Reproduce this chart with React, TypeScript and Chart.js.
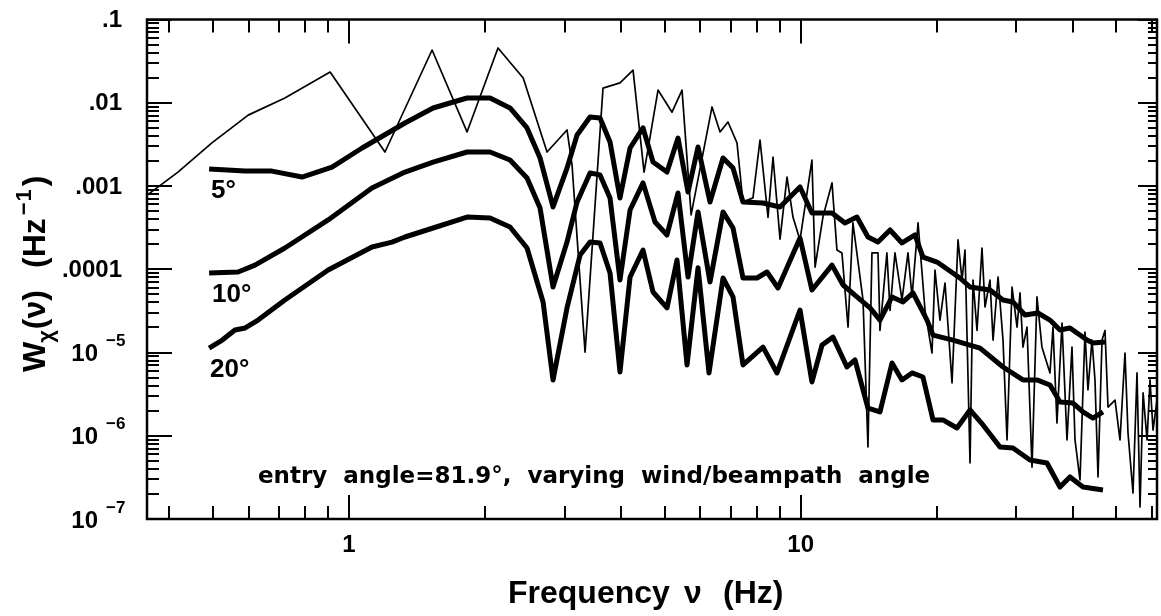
import React, { useEffect, useRef } from 'react';
import { Chart, registerables } from 'chart.js';

Chart.register(...registerables);

const X_MIN = 0.357;
const X_MAX = 61.5;
const Y_MIN = 1e-7;
const Y_MAX = 0.1;

// measured spectrum (thin line)
const thinFreq = [0.353, 0.418, 0.497, 0.598, 0.721, 0.908, 1.201, 1.527, 1.825, 2.137, 2.43, 2.744, 3.038, 3.117, 3.331, 3.65, 3.98, 4.254, 4.5, 4.832, 5.189, 5.461, 5.72, 6.363, 6.628, 6.903, 7.227, 7.45, 7.84, 8.127, 8.465, 8.684, 9.0, 9.326, 9.616, 9.965, 10.59, 10.76, 11.2, 11.73, 12.03, 12.34, 12.73, 13.05, 13.74, 14.09, 14.38, 14.83, 14.98, 15.52, 15.77, 16.17, 16.76, 17.28, 17.64, 18.19, 18.85, 19.53, 19.83, 20.34, 20.87, 21.63, 22.3, 22.76, 23.11, 23.71, 24.07, 24.57, 25.2, 25.59, 26.25, 26.66, 27.35, 28.05, 28.63, 29.37, 30.13, 30.59, 31.05, 31.7, 32.52, 33.35, 34.21, 35.64, 36.19, 36.93, 37.89, 38.87, 39.87, 40.49, 41.53, 42.6, 43.25, 44.15, 44.83, 45.53, 46.47, 47.18, 47.91, 49.65, 50.93, 52.24, 53.05, 54.42, 55.54, 56.4, 57.29, 58.46, 59.35, 60.26, 61.5, 62.4];
const thinVal = [7.4e-4, 1.47e-3, 3.29e-3, 7.1e-3, 1.14e-2, 2.34e-2, 2.56e-3, 4.3e-2, 4.46e-3, 4.55e-2, 1.98e-2, 2.56e-3, 4.71e-3, 1.79e-3, 1.01e-5, 1.5e-2, 1.73e-2, 2.47e-2, 1.47e-3, 1.42e-2, 7.7e-3, 1.42e-2, 4.5e-4, 8.9e-3, 4.46e-3, 5.87e-3, 3.29e-3, 6.4e-4, 7.2e-4, 3.57e-3, 4.2e-4, 2.23e-3, 2.3e-4, 1.28e-3, 4.2e-4, 2.25e-4, 2.05e-3, 1.06e-4, 4.24e-4, 1.09e-3, 1.7e-4, 1.57e-4, 2.02e-5, 3.6e-4, 4.28e-5, 7.33e-7, 1.57e-4, 1.57e-4, 1.84e-5, 1.57e-4, 3.2e-5, 1.57e-4, 4.28e-5, 1.57e-4, 4.65e-5, 3.6e-4, 3.2e-5, 9.86e-6, 9.8e-5, 2.45e-5, 6.84e-5, 4.3e-6, 2.25e-4, 7.43e-5, 1.7e-4, 4.71e-7, 7.43e-5, 1.84e-5, 1.8e-4, 3.52e-5, 7.43e-5, 1.41e-5, 8.07e-5, 1.41e-5, 8.9e-7, 6.12e-5, 2.02e-5, 5.19e-5, 1.16e-5, 2.02e-5, 4.2e-7, 4.65e-5, 1.16e-5, 5.68e-6, 2.02e-5, 1.42e-6, 2.26e-5, 8.9e-7, 1.16e-5, 8.9e-7, 2.94e-7, 1.76e-5, 3.55e-6, 1.41e-5, 4.68e-6, 3.2e-7, 1.41e-5, 1.84e-5, 2.21e-6, 2.68e-6, 8.9e-7, 9.86e-6, 1.08e-6, 2.05e-7, 5.68e-6, 1.39e-7, 3.27e-6, 8.9e-7, 4.68e-6, 1.17e-6, 2.68e-6, 1.5e-6];

// model, 5 degrees
const freq5 = [0.49, 0.589, 0.675, 0.787, 0.917, 1.069, 1.33, 1.535, 1.825, 2.052, 2.272, 2.478, 2.648, 2.829, 3.038, 3.198, 3.417, 3.595, 3.783, 3.98, 4.19, 4.476, 4.71, 5.058, 5.35, 5.63, 5.925, 6.298, 6.73, 7.082, 7.451, 8.252, 9.0, 9.965, 10.59, 11.73, 12.53, 13.32, 14.09, 14.83, 15.77, 16.76, 17.91, 18.65, 20.04, 22.52, 23.71, 26.25, 28.05, 29.51, 31.38, 33.52, 35.64, 37.5, 39.46, 43.04, 44.37, 47.18];
const val5 = [1.6e-3, 1.51e-3, 1.51e-3, 1.28e-3, 1.69e-3, 2.86e-3, 5.71e-3, 8.65e-3, 1.14e-2, 1.14e-2, 8.65e-3, 4.98e-3, 2.17e-3, 5.6e-4, 1.64e-3, 4.1e-3, 6.75e-3, 6.56e-3, 3.38e-3, 7.18e-4, 2.86e-3, 4.98e-3, 1.94e-3, 1.47e-3, 3.77e-3, 8.47e-4, 2.94e-3, 6.43e-4, 2.17e-3, 1.64e-3, 6.43e-4, 6.25e-4, 5.6e-4, 9.73e-4, 4.74e-4, 4.74e-4, 3.6e-4, 4.24e-4, 2.44e-4, 2.12e-4, 2.96e-4, 2.07e-4, 2.58e-4, 1.4e-4, 1.22e-4, 7.85e-5, 6.12e-5, 5.64e-5, 4.28e-5, 4.05e-5, 2.82e-5, 2.98e-5, 2.45e-5, 1.86e-5, 1.97e-5, 1.41e-5, 1.3e-5, 1.34e-5];

// model, 10 degrees
const freq10 = [0.49, 0.568, 0.619, 0.721, 0.899, 1.124, 1.33, 1.535, 1.825, 2.052, 2.272, 2.478, 2.648, 2.829, 3.038, 3.198, 3.417, 3.595, 3.783, 3.98, 4.19, 4.476, 4.758, 5.058, 5.35, 5.63, 5.925, 6.298, 6.73, 7.082, 7.451, 8.002, 8.422, 8.908, 9.965, 10.59, 11.73, 12.41, 13.32, 14.24, 14.98, 15.93, 16.85, 17.73, 19.04, 19.63, 21.73, 24.95, 28.05, 31.05, 33.35, 35.64, 37.5, 40.07, 42.17, 44.37, 46.7];
const val10 = [9.02e-5, 9.27e-5, 1.12e-4, 1.8e-4, 3.91e-4, 9.46e-4, 1.47e-3, 1.94e-3, 2.56e-3, 2.56e-3, 2.05e-3, 1.25e-3, 5.44e-4, 6.12e-5, 2.12e-4, 6.43e-4, 1.43e-3, 1.36e-3, 7.18e-4, 7.43e-5, 5.15e-4, 1.09e-3, 3.7e-4, 2.58e-4, 8.24e-4, 8.07e-5, 4.88e-4, 7.03e-5, 4.88e-4, 3.13e-4, 7.85e-5, 7.85e-5, 9.27e-5, 5.96e-5, 2.37e-4, 5.64e-5, 1.12e-4, 6.47e-5, 4.65e-5, 3.43e-5, 2.45e-5, 4.65e-5, 4.05e-5, 5.19e-5, 2.45e-5, 1.62e-5, 1.41e-5, 1.13e-5, 6.7e-6, 4.68e-6, 4.68e-6, 4.07e-6, 2.54e-6, 2.47e-6, 1.93e-6, 1.63e-6, 1.93e-6];

// model, 20 degrees
const freq20 = [0.49, 0.524, 0.559, 0.589, 0.629, 0.721, 0.899, 1.124, 1.245, 1.33, 1.535, 1.825, 2.052, 2.272, 2.478, 2.689, 2.829, 3.038, 3.247, 3.417, 3.595, 3.783, 3.98, 4.19, 4.476, 4.71, 5.058, 5.323, 5.602, 5.925, 6.266, 6.73, 7.082, 7.451, 8.252, 8.863, 9.965, 10.59, 11.15, 11.79, 12.66, 13.19, 14.09, 14.98, 15.93, 16.76, 17.64, 18.65, 19.63, 20.65, 22.18, 23.71, 25.33, 27.62, 29.51, 32.18, 35.1, 37.5, 39.46, 42.17, 46.7];
const val20 = [1.13e-5, 1.41e-5, 1.86e-5, 1.97e-5, 2.45e-5, 4.28e-5, 9.8e-5, 1.85e-4, 2.12e-4, 2.44e-4, 3.13e-4, 4.24e-4, 4.13e-4, 3.22e-4, 1.8e-4, 4.05e-5, 4.68e-6, 3.43e-5, 1.48e-4, 2.12e-4, 2.07e-4, 9.02e-5, 5.83e-6, 8.07e-5, 1.7e-4, 5.33e-5, 3.43e-5, 1.29e-4, 7.08e-6, 1.04e-4, 5.68e-6, 7.85e-5, 4.65e-5, 7.08e-6, 1.16e-5, 5.68e-6, 3.24e-5, 4.43e-6, 1.23e-5, 1.53e-5, 6.7e-6, 8.13e-6, 2.15e-6, 1.93e-6, 7.48e-6, 4.68e-6, 5.68e-6, 5.08e-6, 1.55e-6, 1.55e-6, 1.24e-6, 2.04e-6, 1.35e-6, 7.33e-7, 7.13e-7, 5.12e-7, 4.71e-7, 2.42e-7, 3.2e-7, 2.42e-7, 2.23e-7];

// axis ticks
const X_MAJOR = [1, 10];
const X_MAJOR_LABELS = ['1', '10'];
const X_MINOR = [0.4, 0.5, 0.6, 0.7, 0.8, 0.9, 2, 3, 4, 5, 6, 7, 8, 9, 20, 30, 40, 50, 60];
const Y_MAJOR = [1e-1, 1e-2, 1e-3, 1e-4, 1e-5, 1e-6, 1e-7];
const Y_LABEL_BASE = ['.1', '.01', '.001', '.0001', '10', '10', '10'];
const Y_LABEL_EXP = ['', '', '', '', '\u22125', '\u22126', '\u22127'];
const Y_MINOR_MULT = [2, 3, 4, 5, 6, 7, 8, 9];

// curve labels
const CURVE_LABELS = ['5\u00b0', '10\u00b0', '20\u00b0'];
const ANNOTATION = 'entry  angle=81.9\u00b0,  varying  wind/beampath  angle';

const LIB = '"Liberation Sans", Arial, sans-serif';
const DEJA = '"DejaVu Sans", sans-serif';

const framePlugin = {
  id: 'frame',
  afterDatasetsDraw(chart: any) {
    const { ctx, chartArea: a } = chart;
    const xs = chart.scales.x;
    const ys = chart.scales.y;
    ctx.save();
    ctx.strokeStyle = '#000';
    ctx.fillStyle = '#000';
    ctx.lineWidth = 2.5;
    ctx.strokeRect(a.left, a.top, a.right - a.left, a.bottom - a.top);

    ctx.lineWidth = 2;
    ctx.beginPath();
    const xTick = (v: number, len: number) => {
      const px = Math.round(xs.getPixelForValue(v));
      ctx.moveTo(px, a.bottom);
      ctx.lineTo(px, a.bottom - len);
      ctx.moveTo(px, a.top);
      ctx.lineTo(px, a.top + len);
    };
    X_MAJOR.forEach((v) => xTick(v, 24));
    X_MINOR.forEach((v) => xTick(v, 13));
    const yTick = (v: number, lenL: number, lenR: number) => {
      const py = Math.round(ys.getPixelForValue(v));
      ctx.moveTo(a.left, py);
      ctx.lineTo(a.left + lenL, py);
      ctx.moveTo(a.right, py);
      ctx.lineTo(a.right - lenR, py);
    };
    Y_MAJOR.forEach((v) => yTick(v, 25, 19));
    Y_MAJOR.forEach((v) => {
      if (v >= 0.1) return;
      Y_MINOR_MULT.forEach((m) => yTick(v * m, 12, 9));
    });
    ctx.stroke();

    // y tick labels
    ctx.textBaseline = 'middle';
    Y_MAJOR.forEach((v, i) => {
      const py = ys.getPixelForValue(v);
      if (Y_LABEL_EXP[i]) {
        ctx.font = 'bold 24px ' + LIB;
        ctx.textAlign = 'right';
        ctx.fillText(Y_LABEL_BASE[i], 98, py + 2);
        ctx.font = 'bold 17px ' + LIB;
        ctx.textAlign = 'left';
        ctx.fillText(Y_LABEL_EXP[i], 106, py - 11);
      } else {
        ctx.font = 'bold 24px ' + LIB;
        ctx.textAlign = 'right';
        ctx.fillText(Y_LABEL_BASE[i], 122, py + 1);
      }
    });

    // x tick labels
    ctx.font = 'bold 24px ' + LIB;
    ctx.textAlign = 'center';
    ctx.textBaseline = 'alphabetic';
    X_MAJOR.forEach((v, i) => {
      ctx.fillText(X_MAJOR_LABELS[i], xs.getPixelForValue(v), 552);
    });

    // x title
    ctx.font = 'bold 32px ' + LIB;
    ctx.textAlign = 'left';
    ctx.fillText('Frequency', 508, 603);
    ctx.fillText('\u03bd', 684, 603);
    ctx.fillText('(Hz)', 723, 603);

    // y title (rotated)
    ctx.save();
    ctx.translate(45, 372);
    ctx.rotate(-Math.PI / 2);
    ctx.textAlign = 'left';
    ctx.textBaseline = 'alphabetic';
    let cx = 0;
    const main = 'bold 32px ' + LIB;
    const small = 'bold 22px ' + LIB;
    ctx.font = main;
    ctx.fillText('W', cx, 0);
    cx += ctx.measureText('W').width;
    ctx.font = small;
    ctx.fillText('\u03c7', cx - 1, 8);
    cx += ctx.measureText('\u03c7').width;
    ctx.font = main;
    ctx.fillText('(\u03bd)', cx, 0);
    cx += ctx.measureText('(\u03bd)').width + 22;
    ctx.fillText('(Hz', cx, 0);
    cx += ctx.measureText('(Hz').width + 3;
    ctx.font = small;
    ctx.fillText('\u2212', cx, -14);
    cx += ctx.measureText('\u2212').width + 1;
    ctx.fillText('1', cx, -14);
    cx += ctx.measureText('1').width + 3;
    ctx.font = main;
    ctx.fillText(')', cx, 0);
    ctx.restore();

    // curve labels
    ctx.font = 'bold 26px ' + LIB;
    ctx.textAlign = 'left';
    const lx = xs.getPixelForValue(freq5[0]);
    ctx.fillText(CURVE_LABELS[0], lx + 2, 198);
    ctx.fillText(CURVE_LABELS[1], lx + 3, 302);
    ctx.fillText(CURVE_LABELS[2], lx + 1, 377);

    // annotation
    ctx.font = 'bold 23px ' + DEJA;
    ctx.fillText(ANNOTATION, 258, 483);

    ctx.restore();
  },
};

const toPts = (fs: number[], vs: number[]) => fs.map((f, i) => ({ x: f, y: vs[i] }));

export default function App() {
  const ref = useRef<HTMLCanvasElement | null>(null);
  useEffect(() => {
    if (!ref.current) return;
    const chart = new Chart(ref.current, {
      type: 'scatter',
      data: {
        datasets: [
          { data: toPts(freq5, val5), showLine: true, borderColor: '#000', borderWidth: 5, pointRadius: 0, clip: 0 },
          { data: toPts(freq10, val10), showLine: true, borderColor: '#000', borderWidth: 5, pointRadius: 0, clip: 0 },
          { data: toPts(freq20, val20), showLine: true, borderColor: '#000', borderWidth: 5, pointRadius: 0, clip: 0 },
          { data: toPts(thinFreq, thinVal), showLine: true, borderColor: '#000', borderWidth: 1.7, pointRadius: 0, clip: 0 },
        ],
      } as any,
      options: {
        animation: false,
        responsive: false,
        layout: { padding: { left: 147, top: 19.5, right: 4, bottom: 97 } },
        scales: {
          x: { type: 'logarithmic', min: X_MIN, max: X_MAX, display: false },
          y: { type: 'logarithmic', min: Y_MIN, max: Y_MAX, display: false },
        },
        plugins: { legend: { display: false }, tooltip: { enabled: false } },
        elements: { line: { tension: 0, borderJoinStyle: 'round' as any } },
      } as any,
      plugins: [framePlugin],
    });
    return () => chart.destroy();
  }, []);
  return (
    <div style={{ position: 'absolute', left: 0, top: 0, width: 1161, height: 616, background: '#fff' }}>
      <canvas ref={ref} width={1161} height={616} style={{ display: 'block' }} />
    </div>
  );
}
